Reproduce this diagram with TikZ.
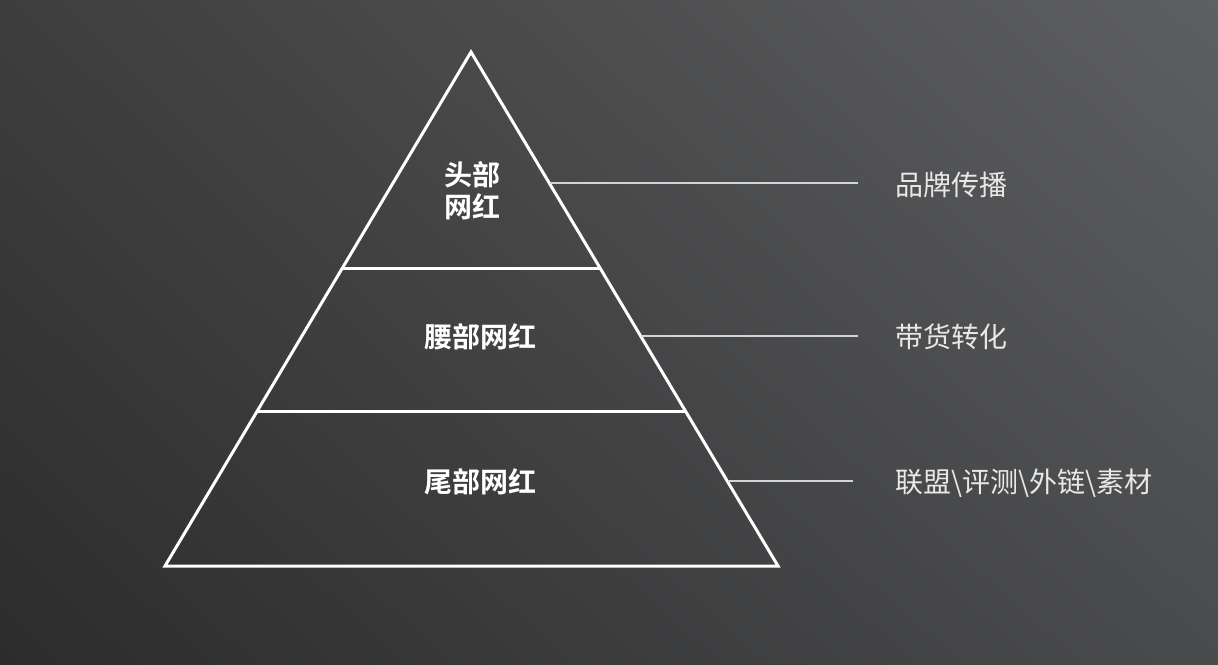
\documentclass[tikz,border=0pt]{standalone}
\usepackage{fontspec}
\usetikzlibrary{shadings}
\newfontfamily\cjk{Noto Sans CJK SC}
\newfontfamily\cjkbold{Noto Sans CJK SC Bold}

\definecolor{bgtl}{HTML}{3E3E3E}
\definecolor{bgtr}{HTML}{5E5F61}
\definecolor{bgbl}{HTML}{2C2C2C}
\definecolor{bgbr}{HTML}{4A4B4D}
\definecolor{leadgray}{HTML}{D2D4D6}
\definecolor{rolegray}{HTML}{E8E8E8}

\tikzset{
  layer/.style={font=\cjkbold\fontsize{28}{32}\selectfont, text=white, align=center, inner sep=0pt},
  role/.style={font=\cjk\fontsize{28}{32}\selectfont, text=rolegray, anchor=west, inner sep=0pt},
  edge/.style={draw=white, line width=3pt, line join=miter},
  leader/.style={draw=leadgray, line width=2pt},
}

\begin{document}
\begin{tikzpicture}[x=1pt, y=-1pt]
    % background
    \shade[upper left=bgtl, upper right=bgtr, lower left=bgbl, lower right=bgbr] (0,0) rectangle (1218,664);
    % pyramid
    \coordinate (apex) at (471,52);
    \coordinate (bl) at (165,566);
    \coordinate (br) at (778,566);
    \draw[edge] (apex) -- (br) -- (bl) -- cycle;
    \draw[edge] (343,268) -- (600,268);
    \draw[edge] (258,411) -- (685,411);
    % layer names
    \node[layer] (head) at (472,191) {头部\\网红};
    \node[layer] (waist) at (480,337) {腰部网红};
    \node[layer] (tail) at (480,482) {尾部网红};
    % roles on the right
    \node[role] (brand) at (895,185) {品牌传播};
    \node[role] (sales) at (895,337) {带货转化};
    \node[role] (misc) at (895,483) {联盟\textbackslash 评测\textbackslash 外链\textbackslash 素材};
    \coordinate (h1) at (550,183); \coordinate (h2) at (858,183);
    \coordinate (w1) at (641,336); \coordinate (w2) at (858,336);
    \coordinate (t1) at (728,481); \coordinate (t2) at (853,481);
    \draw[leader] (h1) -- (h2);
    \draw[leader] (w1) -- (w2);
    \draw[leader] (t1) -- (t2);
\end{tikzpicture}
\end{document}
